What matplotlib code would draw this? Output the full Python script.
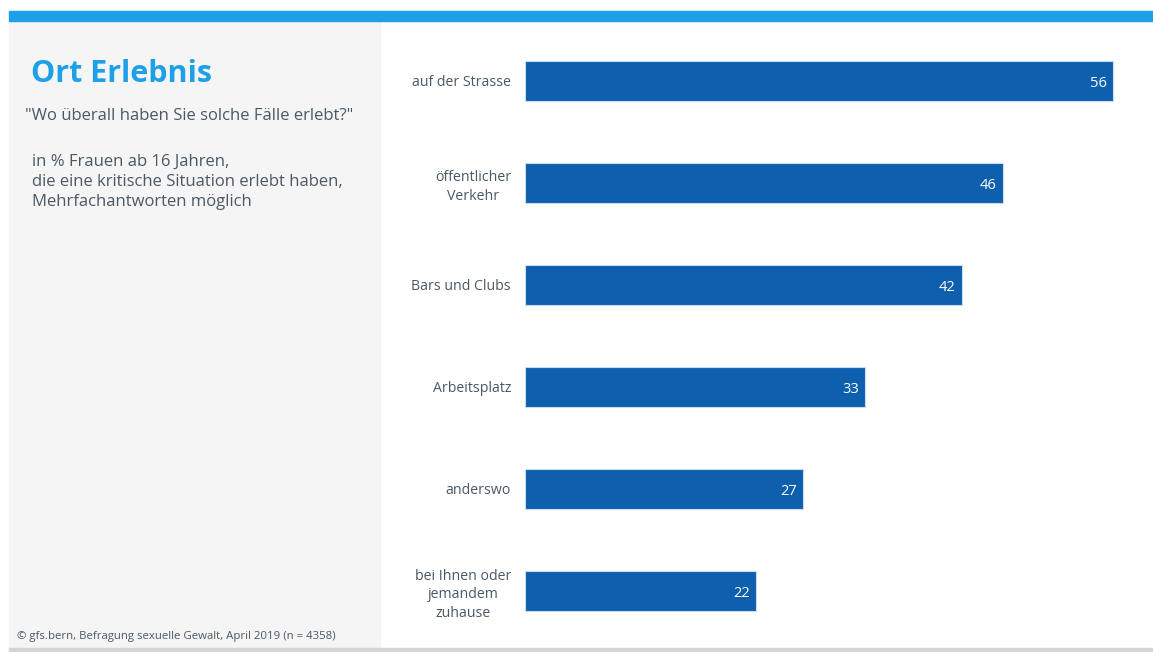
import matplotlib
matplotlib.use("Agg")
import matplotlib.pyplot as plt
from matplotlib.patches import Rectangle

categories = ["auf der Strasse", "öffentlicher\nVerkehr", "Bars und Clubs",
              "Arbeitsplatz", "anderswo", "bei Ihnen oder\njemandem\nzuhause"]
values = [56.0, 45.5, 41.6, 32.4, 26.5, 22.0]
value_labels = ["56", "46", "42", "33", "27", "22"]

title = "Ort Erlebnis"
question = '"Wo überall haben Sie solche Fälle erlebt?"'
note_lines = ["in % Frauen ab 16 Jahren,",
              "die eine kritische Situation erlebt haben,",
              "Mehrfachantworten möglich"]
source = "© gfs.bern, Befragung sexuelle Gewalt, April 2019 (n = 4358)"

plt.rcParams['font.family'] = ['Open Sans', 'DejaVu Sans']

W, H = 1153, 652
fig = plt.figure(figsize=(W / 100, H / 100), dpi=100)
fig.patch.set_facecolor("white")

def fx(px):
    return px / W

def fy(py):
    return 1 - py / H

# background panels
fig.patches.append(Rectangle((fx(9), fy(648)), fx(380 - 9), (648 - 21) / H,
                             transform=fig.transFigure, color="#f5f5f5", zorder=0))
fig.patches.append(Rectangle((fx(9), fy(21)), fx(W - 9), 10 / H,
                             transform=fig.transFigure, color="#1ea0e9", zorder=0))
fig.patches.append(Rectangle((fx(9), 0), fx(W - 9), 4 / H,
                             transform=fig.transFigure, color="#d4d4d4", zorder=0))

text_color = "#4b5865"
fig.text(fx(31), fy(74), title, fontsize=22, fontweight="bold", color="#1ea0e9",
         va="center", ha="left")
fig.text(fx(25), fy(116), question, fontsize=12, color=text_color, va="center", ha="left")
for i, line in enumerate(note_lines):
    fig.text(fx(32), fy(162 + 20 * i), line, fontsize=12, color=text_color,
             va="center", ha="left")
fig.text(fx(17), fy(636), source, fontsize=8.2, color=text_color, va="center", ha="left")

ax = fig.add_axes([fx(525), fy(642), fx(1140 - 525), 612 / H])
ax.set_facecolor("none")
pos = list(range(len(categories)))
ax.barh(pos, values, height=40 / 102, color="#0e5fad", edgecolor="#c9dcef",
        linewidth=0.8)
ax.set_xlim(0, (1140 - 525) / 10.5)
ax.set_ylim(len(categories) - 0.5, -0.5)
for s in ax.spines.values():
    s.set_visible(False)
ax.set_xticks([])
ax.set_yticks(pos)
ax.set_yticklabels(categories, fontsize=10.2, color=text_color, multialignment="center",
                   linespacing=1.35)
ax.tick_params(axis="y", length=0, pad=10)
for p, v, lab in zip(pos, values, value_labels):
    ax.text(v - 0.6, p + 0.02, lab, color="white", fontsize=10.5, ha="right", va="center")

fig.savefig("out.png", dpi=100)
